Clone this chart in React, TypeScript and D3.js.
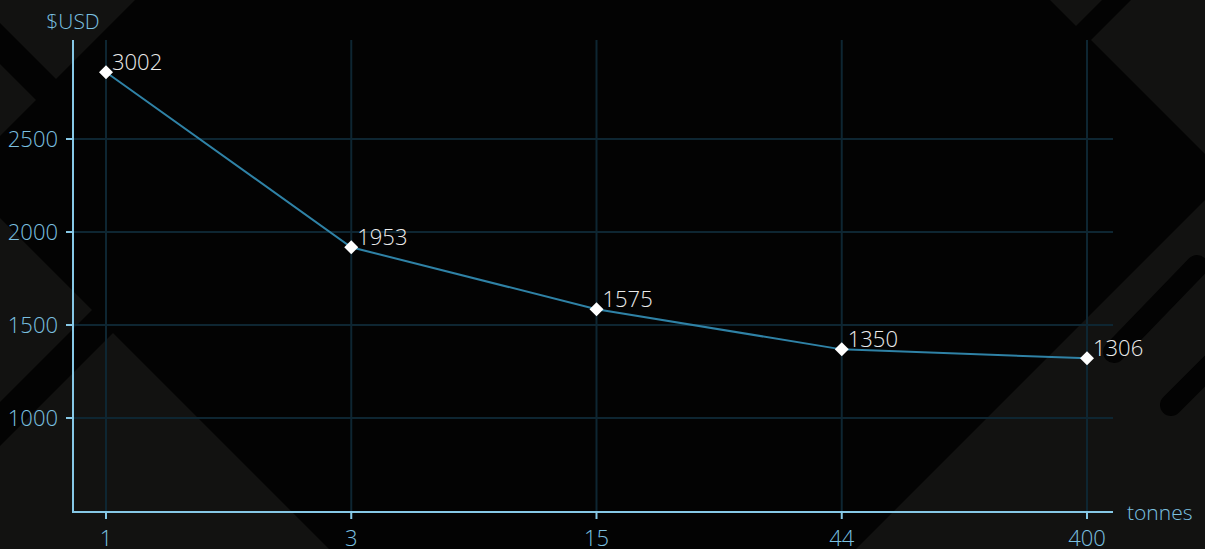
import React from "react";
import * as d3 from "d3";

const categories = ["1", "3", "15", "44", "400"];
const plotted = [2859, 1918, 1585, 1369, 1321];
const pointLabels = ["3002", "1953", "1575", "1350", "1306"];
const yTicks = [1000, 1500, 2000, 2500];
const yTitle = "$USD";
const xTitle = "tonnes";

const W = 1205;
const H = 549;

const bgShapes: [number, number][][] = [
  [[0, 0], [135, 0], [56, 79], [0, 23]],
  [[0, 64], [36, 100], [0, 136]],
  [[0, 218], [92, 310], [0, 402]],
  [[0, 446], [113, 333], [329, 549], [0, 549]],
  [[1050, 0], [1102, 0], [1076, 26]],
  [[1131, 0], [1205, 0], [1205, 154], [1091, 40]],
  [[856, 549], [1205, 200], [1205, 549]],
];
const bgStrokes: [number, number, number, number][] = [
  [1114, 352, 1197, 266],
  [1171, 405, 1290, 286],
];

export default function App() {
  const left = 73, right = 1113, top = 40, bottom = 512;
  const x = d3.scalePoint<string>().domain(categories).range([106, 1087]);
  const y = d3.scaleLinear().domain([1000, 2500]).range([418, 139]);

  const pts = categories.map((c, i) => [x(c) as number, y(plotted[i])] as [number, number]);
  const line = d3.line()(pts) || "";
  const diamond = d3.symbol().type(d3.symbolSquare).size(98)() || "";

  const axisColor = "#86c8e6";
  const tickText = "#7bc0e0";
  const gridColor = "#0e2632";
  const font = "'Open Sans', 'Noto Sans', sans-serif";

  return (
    <svg width={W} height={H} style={{ position: "fixed", left: 0, top: 0, display: "block" }} fontFamily={font} fontWeight={350}>
      <rect x={0} y={0} width={W} height={H} fill="#030303" />
      {bgShapes.map((p, i) => (
        <polygon key={i} points={p.map((q) => q.join(",")).join(" ")} fill="#121211" />
      ))}
      {bgStrokes.map((s, i) => (
        <line key={i} x1={s[0]} y1={s[1]} x2={s[2]} y2={s[3]} stroke="#030303" strokeWidth={22} strokeLinecap="round" />
      ))}

      {categories.map((c) => (
        <line key={"vg" + c} x1={x(c)} x2={x(c)} y1={top} y2={bottom} stroke={gridColor} strokeWidth={2} />
      ))}
      {yTicks.map((t) => (
        <line key={"hg" + t} x1={left} x2={right} y1={y(t)} y2={y(t)} stroke={gridColor} strokeWidth={2} />
      ))}

      <line x1={left} x2={left} y1={top} y2={bottom + 1} stroke={axisColor} strokeWidth={2} />
      <line x1={left - 1} x2={right} y1={bottom} y2={bottom} stroke={axisColor} strokeWidth={2} />
      {yTicks.map((t) => (
        <g key={"yt" + t}>
          <line x1={left - 7} x2={left} y1={y(t)} y2={y(t)} stroke={axisColor} strokeWidth={2} />
          <text x={left - 15} y={y(t)} dy="0.35em" textAnchor="end" fontSize={22} fill={tickText}>{t}</text>
        </g>
      ))}
      {categories.map((c) => (
        <g key={"xt" + c}>
          <line x1={x(c)} x2={x(c)} y1={bottom} y2={bottom + 7} stroke={axisColor} strokeWidth={2} />
          <text x={x(c)} y={546} textAnchor="middle" fontSize={22} fill={tickText}>{c}</text>
        </g>
      ))}
      <text x={left} y={29} textAnchor="middle" fontSize={21} fill={tickText}>{yTitle}</text>
      <text x={right + 14} y={520} textAnchor="start" fontSize={21} fill={tickText}>{xTitle}</text>

      <path d={line} fill="none" stroke="#2f82a6" strokeWidth={2} />
      {pts.map((p, i) => (
        <g key={"pt" + i}>
          <path d={diamond} transform={`translate(${p[0]},${p[1]}) rotate(45)`} fill="#ffffff" />
          <text x={p[0] + 6} y={p[1] - 2} fontSize={22} fill="#ececec">{pointLabels[i]}</text>
        </g>
      ))}
    </svg>
  );
}
